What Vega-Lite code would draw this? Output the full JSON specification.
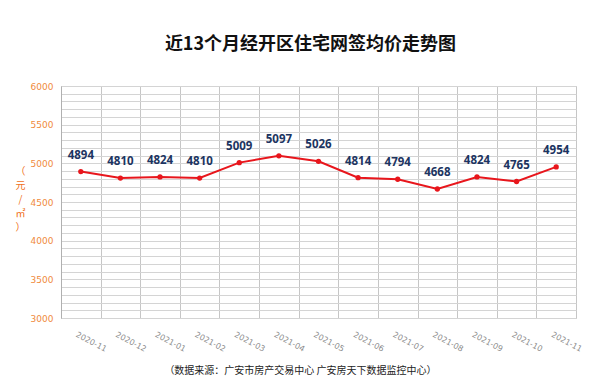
{
  "$schema": "https://vega.github.io/schema/vega-lite/v6.json",
  "width": 515,
  "height": 232,
  "autosize": {"type": "none"},
  "padding": {"left": 61, "top": 86, "right": 24, "bottom": 68},
  "background": "white",
  "title": {
    "text": "近13个月经开区住宅网签均价走势图",
    "font": "Noto Sans CJK SC",
    "fontSize": 18,
    "fontWeight": "bold",
    "color": "#111111",
    "anchor": "middle",
    "dx": -8,
    "offset": 28
  },
  "config": {
    "view": {"stroke": "#c6c6c6", "strokeWidth": 1},
    "font": "Noto Sans CJK SC"
  },
  "data": {
    "values": [
      {"month": "2020-11", "price": 4894},
      {"month": "2020-12", "price": 4810},
      {"month": "2021-01", "price": 4824},
      {"month": "2021-02", "price": 4810},
      {"month": "2021-03", "price": 5009},
      {"month": "2021-04", "price": 5097},
      {"month": "2021-05", "price": 5026},
      {"month": "2021-06", "price": 4814},
      {"month": "2021-07", "price": 4794},
      {"month": "2021-08", "price": 4668},
      {"month": "2021-09", "price": 4824},
      {"month": "2021-10", "price": 4765},
      {"month": "2021-11", "price": 4954}
    ]
  },
  "encoding": {
    "x": {
      "field": "month",
      "type": "ordinal",
      "sort": null,
      "bandPosition": 0.5,
      "scale": {"type": "band", "paddingInner": 0, "paddingOuter": 0},
      "axis": {
        "title": "（数据来源：广安市房产交易中心  广安房天下数据监控中心）",
        "titleFont": "Noto Sans CJK SC",
        "titleFontSize": 10,
        "titleFontWeight": "normal",
        "titleColor": "#222222",
        "titleX": 239,
        "titleY": 52,
        "titleAnchor": "middle",
        "titleAlign": "center",
        "titleBaseline": "middle",
        "tickBand": "extent",
        "grid": true,
        "gridColor": "#c6c6c6",
        "gridWidth": 1,
        "domain": false,
        "ticks": false,
        "labelAngle": 28,
        "labelAlign": "left",
        "labelBaseline": "middle",
        "labelPadding": 16,
        "labelOffset": -5,
        "labelFont": "DejaVu Sans",
        "labelFontSize": 8,
        "labelColor": "#8a8a8a"
      }
    },
    "y": {
      "field": "price",
      "type": "quantitative",
      "scale": {"domain": [3000, 6000], "nice": false, "zero": false},
      "axis": {
        "values": [3000, 3100, 3200, 3300, 3400, 3500, 3600, 3700, 3800, 3900, 4000, 4100, 4200, 4300, 4400, 4500, 4600, 4700, 4800, 4900, 5000, 5100, 5200, 5300, 5400, 5500, 5600, 5700, 5800, 5900, 6000],
        "labelExpr": "datum.value % 500 === 0 ? datum.label : ''",
        "format": "d",
        "grid": true,
        "gridColor": "#d4d4d4",
        "gridWidth": 1,
        "domain": true,
        "domainColor": "#b0b0b0",
        "ticks": false,
        "labelPadding": 8,
        "labelFont": "DejaVu Sans",
        "labelFontSize": 9,
        "labelColor": "#f08a3c",
        "title": ["（", "元", "/", "㎡", "）"],
        "titleAngle": 0,
        "titleFont": "Noto Sans CJK SC",
        "titleFontSize": 10,
        "titleFontWeight": "normal",
        "titleColor": "#f07020",
        "titleLineHeight": 14,
        "titleX": -41,
        "titleY": 80,
        "titleAlign": "center",
        "titleBaseline": "top"
      }
    }
  },
  "layer": [
    {
      "mark": {"type": "line", "color": "#e8161c", "strokeWidth": 2}
    },
    {
      "mark": {"type": "point", "filled": true, "color": "#e8161c", "size": 28, "opacity": 1}
    },
    {
      "mark": {
        "type": "text",
        "dy": -16,
        "font": "Noto Sans",
        "fontSize": 11.5,
        "fontWeight": "bold",
        "color": "#1c3461",
        "baseline": "middle"
      },
      "encoding": {"text": {"field": "price", "type": "quantitative", "format": "d"}}
    }
  ]
}
